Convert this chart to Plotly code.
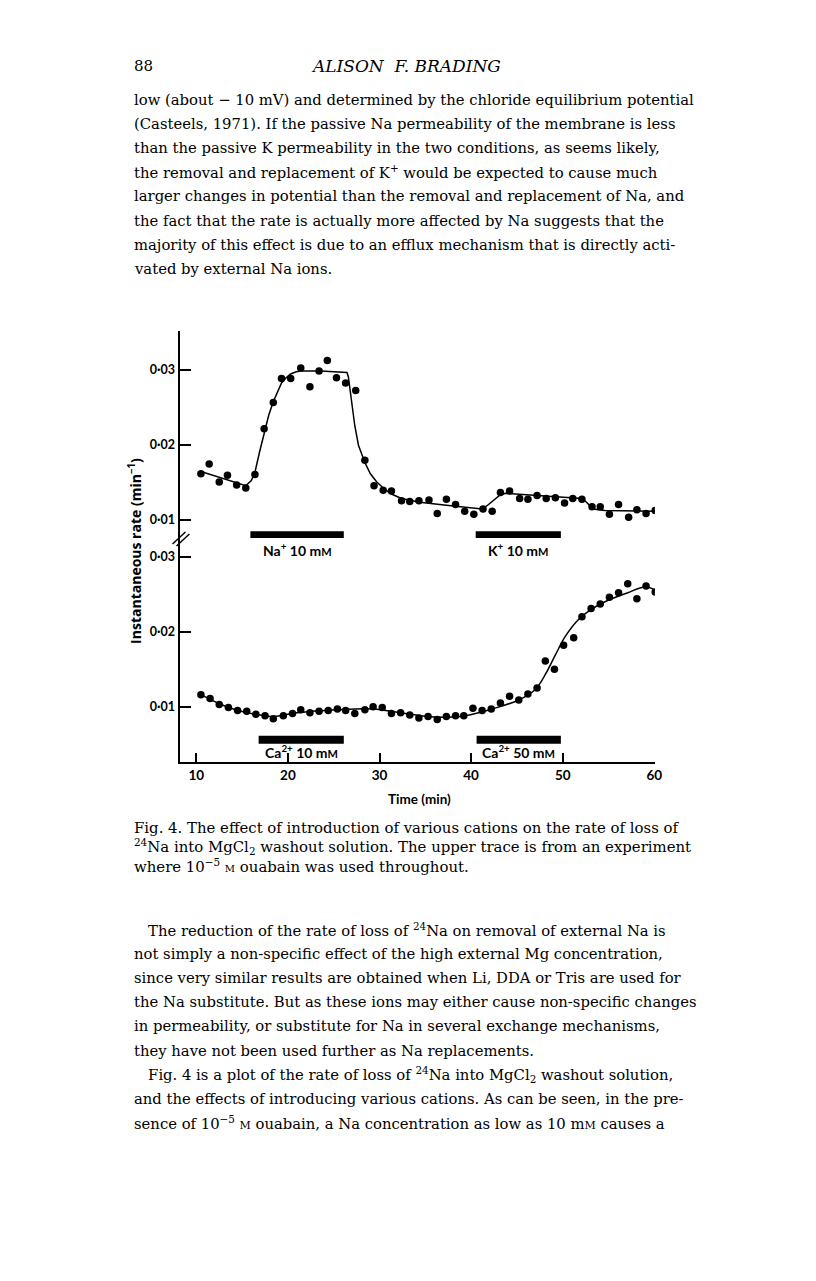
import plotly.graph_objects as go

# --- data (time in min, rate in min^-1) ---
upper_t = [10.5, 11.4, 12.5, 13.4, 14.4, 15.4, 16.4, 17.4, 18.4, 19.3, 20.3, 21.4, 22.4, 23.4,
           24.3, 25.3, 26.3, 27.4, 28.4, 29.4, 30.4, 31.3, 32.4, 33.3, 34.3, 35.4, 36.3, 37.3,
           38.3, 39.3, 40.3, 41.3, 42.3, 43.2, 44.2, 45.3, 46.2, 47.2, 48.2, 49.2, 50.2, 51.1,
           52.1, 53.2, 54.1, 55.1, 56.1, 57.2, 58.1, 59.1, 60.1]
upper_v = [0.0161, 0.0174, 0.0150, 0.0159, 0.0146, 0.0142, 0.0160, 0.0221, 0.0256, 0.0288,
           0.0288, 0.0302, 0.0277, 0.0298, 0.0312, 0.0289, 0.0282, 0.0272, 0.0179, 0.0145,
           0.0139, 0.0138, 0.0125, 0.0124, 0.0125, 0.0126, 0.0108, 0.0127, 0.0120, 0.0111,
           0.0107, 0.0114, 0.0111, 0.0136, 0.0138, 0.0128, 0.0127, 0.0132, 0.0128, 0.0129,
           0.0122, 0.0128, 0.0127, 0.0117, 0.0117, 0.0107, 0.0120, 0.0103, 0.0113, 0.0108,
           0.0112]
upper_fit_t = [10.5, 15.4, 16.0, 16.4, 16.9, 17.4, 17.9, 18.4, 18.9, 19.3, 19.8, 20.3, 20.9,
               21.4, 23.6, 26.45, 26.6, 26.9, 27.3, 27.7, 28.4, 29.0, 29.7, 30.4, 31.3, 32.4,
               34.4, 37.3, 40.2, 41.2, 41.8, 42.3, 43.2, 43.8, 48.8, 52.1, 52.6, 53.3, 54.6, 60.1]
upper_fit_v = [0.0164, 0.0145, 0.0152, 0.0163, 0.0190, 0.0214, 0.0239, 0.0257, 0.0272, 0.0282,
               0.0289, 0.0294, 0.0297, 0.0298, 0.0298, 0.0296, 0.0290, 0.0261, 0.0225, 0.0199,
               0.0176, 0.0161, 0.0150, 0.0142, 0.0134, 0.0128, 0.0123, 0.0119, 0.0115, 0.0114,
               0.0119, 0.0124, 0.0133, 0.0135, 0.0131, 0.0128, 0.0123, 0.0114, 0.0112, 0.0111]

lower_t = [10.5, 11.5, 12.5, 13.5, 14.5, 15.5, 16.5, 17.5, 18.4, 19.5, 20.5, 21.4, 22.4, 23.4,
           24.4, 25.4, 26.3, 27.3, 28.4, 29.3, 30.3, 31.3, 32.3, 33.3, 34.3, 35.3, 36.3, 37.3,
           38.3, 39.2, 40.2, 41.2, 42.2, 43.2, 44.2, 45.2, 46.2, 47.2, 48.1, 49.1, 50.1, 51.2,
           52.1, 53.1, 54.1, 55.1, 56.1, 57.1, 58.1, 59.1, 60.1]
lower_v = [0.0116, 0.0111, 0.0103, 0.0099, 0.0095, 0.0094, 0.0090, 0.0088, 0.0084, 0.0088,
           0.0091, 0.0096, 0.0092, 0.0094, 0.0095, 0.0097, 0.0095, 0.0091, 0.0096, 0.0100,
           0.0099, 0.0091, 0.0092, 0.0089, 0.0085, 0.0087, 0.0083, 0.0087, 0.0088, 0.0088,
           0.0098, 0.0095, 0.0097, 0.0105, 0.0114, 0.0109, 0.0117, 0.0125, 0.0161, 0.0150,
           0.0182, 0.0192, 0.0220, 0.0231, 0.0237, 0.0246, 0.0252, 0.0264, 0.0244, 0.0261,
           0.0253]
lower_fit_t = [10.5, 12.5, 14.55, 17.4, 18.5, 21.0, 25.4, 29.3, 32.2, 35.1, 37.3, 39.4, 42.3,
               45.2, 47.0, 48.1, 49.2, 50.3, 51.7, 53.15, 54.95, 57.1, 59.1, 60.1]
lower_fit_v = [0.0116, 0.0104, 0.0095, 0.0088, 0.0087, 0.0092, 0.0096, 0.0097, 0.0092, 0.0087,
               0.0086, 0.0088, 0.0097, 0.0109, 0.0123, 0.0143, 0.0169, 0.0194, 0.0216, 0.0230,
               0.0242, 0.0252, 0.0260, 0.0255]

# treatment periods: (label, start, end)
mM = "m<span style='font-size:11px'>M</span>"
upper_bars = [("Na<sup>+</sup> 10 " + mM, 15.9, 26.1),
              ("K<sup>+</sup> 10 " + mM, 40.5, 49.8)]
lower_bars = [("Ca<sup>2+</sup> 10 " + mM, 16.8, 26.1),
              ("Ca<sup>2+</sup> 50 " + mM, 40.6, 49.8)]

x_ticks = [10, 20, 30, 40, 50, 60]
y_ticks = [0.01, 0.02, 0.03]
y_ticktext = ["0·01", "0·02", "0·03"]

# page body has an 8px margin, so the figure is 800x1265 and page coords are shifted
OFF = 8
W, H = 816 - 2 * OFF, 1281 - 2 * OFF
def px(x):
    return (x - OFF) / W
def py(y):
    return 1 - (y - OFF) / H

sans = "Lato"
serif = "DejaVu Serif"

fig = go.Figure()
dot = dict(color="black", size=7.5)
line = dict(color="black", width=1.5)
fig.add_trace(go.Scatter(x=upper_fit_t, y=upper_fit_v, mode="lines", line=line,
                         xaxis="x", yaxis="y2", hoverinfo="skip"))
fig.add_trace(go.Scatter(x=upper_t, y=upper_v, mode="markers", marker=dot,
                         xaxis="x", yaxis="y2"))
fig.add_trace(go.Scatter(x=lower_fit_t, y=lower_fit_v, mode="lines", line=dict(line, shape="spline"),
                         xaxis="x", yaxis="y", hoverinfo="skip"))
fig.add_trace(go.Scatter(x=lower_t, y=lower_v, mode="markers", marker=dot,
                         xaxis="x", yaxis="y"))

tickfont = dict(family=sans, size=13.5, color="black", weight=700)
ytickfont = dict(family=sans, size=12.5, color="black", weight=700)
yax = dict(showline=True, linewidth=2, linecolor="black", ticks="inside", ticklen=11,
           tickwidth=1.5, tickcolor="black", tickvals=y_ticks, ticktext=y_ticktext,
           showgrid=False, zeroline=False, tickfont=ytickfont, anchor="x", ticklabelstandoff=1)

shapes = []
ann = []
bar_h = 0.00053
lab_font = dict(family=sans, size=14, color="black", weight=700)
for name, s, e in upper_bars:
    shapes.append(dict(type="rect", xref="x", yref="y2", x0=s, x1=e, y0=0.0079 - bar_h,
                       y1=0.0079 + bar_h, fillcolor="black", line_width=0))
    ann.append(dict(xref="x", yref="y2", x=(s + e) / 2, y=0.0079, yshift=-14, text=name,
                    yanchor="middle", xanchor="center", showarrow=False, font=lab_font))
for name, s, e in lower_bars:
    shapes.append(dict(type="rect", xref="x", yref="y", x0=s, x1=e, y0=0.0056 - bar_h,
                       y1=0.0056 + bar_h, fillcolor="black", line_width=0))
    ann.append(dict(xref="x", yref="y", x=(s + e) / 2, y=0.0056, yshift=-12, text=name,
                    yanchor="middle", xanchor="center", showarrow=False, font=lab_font))

# axis break marks
for dx in (0, 4):
    shapes.append(dict(type="line", xref="paper", yref="paper", x0=px(174 + dx), y0=py(544 + dx * 0.5),
                       x1=px(187 + dx), y1=py(532 + dx * 0.5), line=dict(color="black", width=1.5)))

ann.append(dict(xref="paper", yref="paper", x=px(136), y=py(551), xanchor="center", yanchor="middle",
                text="Instantaneous rate (min<sup>−1</sup>)", textangle=-90, showarrow=False,
                font=dict(family="Open Sans", size=14, color="black", weight=700)))
ann.append(dict(xref="paper", yref="paper", x=px(423), y=py(799), xanchor="center", yanchor="middle",
                text="Time (min)", showarrow=False,
                font=dict(family=sans, size=13.5, color="black", weight=700)))

# page text
sc = "<span style='font-size:11px'>M</span>"
def page_text(x, y, s, size, anchor="left"):
    ann.append(dict(xref="paper", yref="paper", x=px(x), y=py(y), xanchor=anchor, yanchor="middle",
                    text=s, showarrow=False, font=dict(family=serif, size=size, color="black")))

page_text(133, 66, "88", 15)
page_text(410, 66, "<i>ALISON  F. BRADING</i>", 17, "center")

para1 = ["low (about − 10 mV) and determined by the chloride equilibrium potential",
         "(Casteels, 1971). If the passive Na permeability of the membrane is less",
         "than the passive K permeability in the two conditions, as seems likely,",
         "the removal and replacement of K<sup>+</sup> would be expected to cause much",
         "larger changes in potential than the removal and replacement of Na, and",
         "the fact that the rate is actually more affected by Na suggests that the",
         "majority of this effect is due to an efflux mechanism that is directly acti-",
         "vated by external Na ions."]
caption = ["Fig. 4. The effect of introduction of various cations on the rate of loss of",
           "<sup>24</sup>Na into MgCl<sub>2</sub> washout solution. The upper trace is from an experiment",
           "where 10<sup>−5</sup> <span style='font-size:10px'>M</span> ouabain was used throughout."]
para2 = ["&nbsp;&nbsp;&nbsp;The reduction of the rate of loss of <sup>24</sup>Na on removal of external Na is",
         "not simply a non-specific effect of the high external Mg concentration,",
         "since very similar results are obtained when Li, DDA or Tris are used for",
         "the Na substitute. But as these ions may either cause non-specific changes",
         "in permeability, or substitute for Na in several exchange mechanisms,",
         "they have not been used further as Na replacements.",
         "&nbsp;&nbsp;&nbsp;Fig. 4 is a plot of the rate of loss of <sup>24</sup>Na into MgCl<sub>2</sub> washout solution,",
         "and the effects of introducing various cations. As can be seen, in the pre-",
         "sence of 10<sup>−5</sup> " + sc + " ouabain, a Na concentration as low as 10 m" + sc + " causes a"]

for i, s in enumerate(para1):
    page_text(133, 99 + i * 24.2, s, 14.8)
for i, s in enumerate(caption):
    page_text(133, 828 + i * 19, s, 14.9)
for i, s in enumerate(para2):
    page_text(133, 929 + i * 24.2, s, 14.8)

fig.update_layout(
    width=W, height=H,
    margin=dict(l=0, r=0, t=0, b=0),
    paper_bgcolor="white", plot_bgcolor="white",
    showlegend=False,
    xaxis=dict(domain=[px(182), px(660.6)], range=[8.268, 60.065], anchor="y",
               showline=True, linewidth=2, linecolor="black", ticks="inside", ticklen=9,
               tickwidth=1.5, tickcolor="black", tickvals=x_ticks, showgrid=False,
               zeroline=False, tickfont=tickfont),
    yaxis=dict(yax, domain=[py(762), py(538)], range=[0.002627, 0.032493]),
    yaxis2=dict(yax, domain=[py(538), py(331)], range=[0.007533, 0.035133]),
    shapes=shapes,
    annotations=ann,
)

fig.write_html("out.html")
